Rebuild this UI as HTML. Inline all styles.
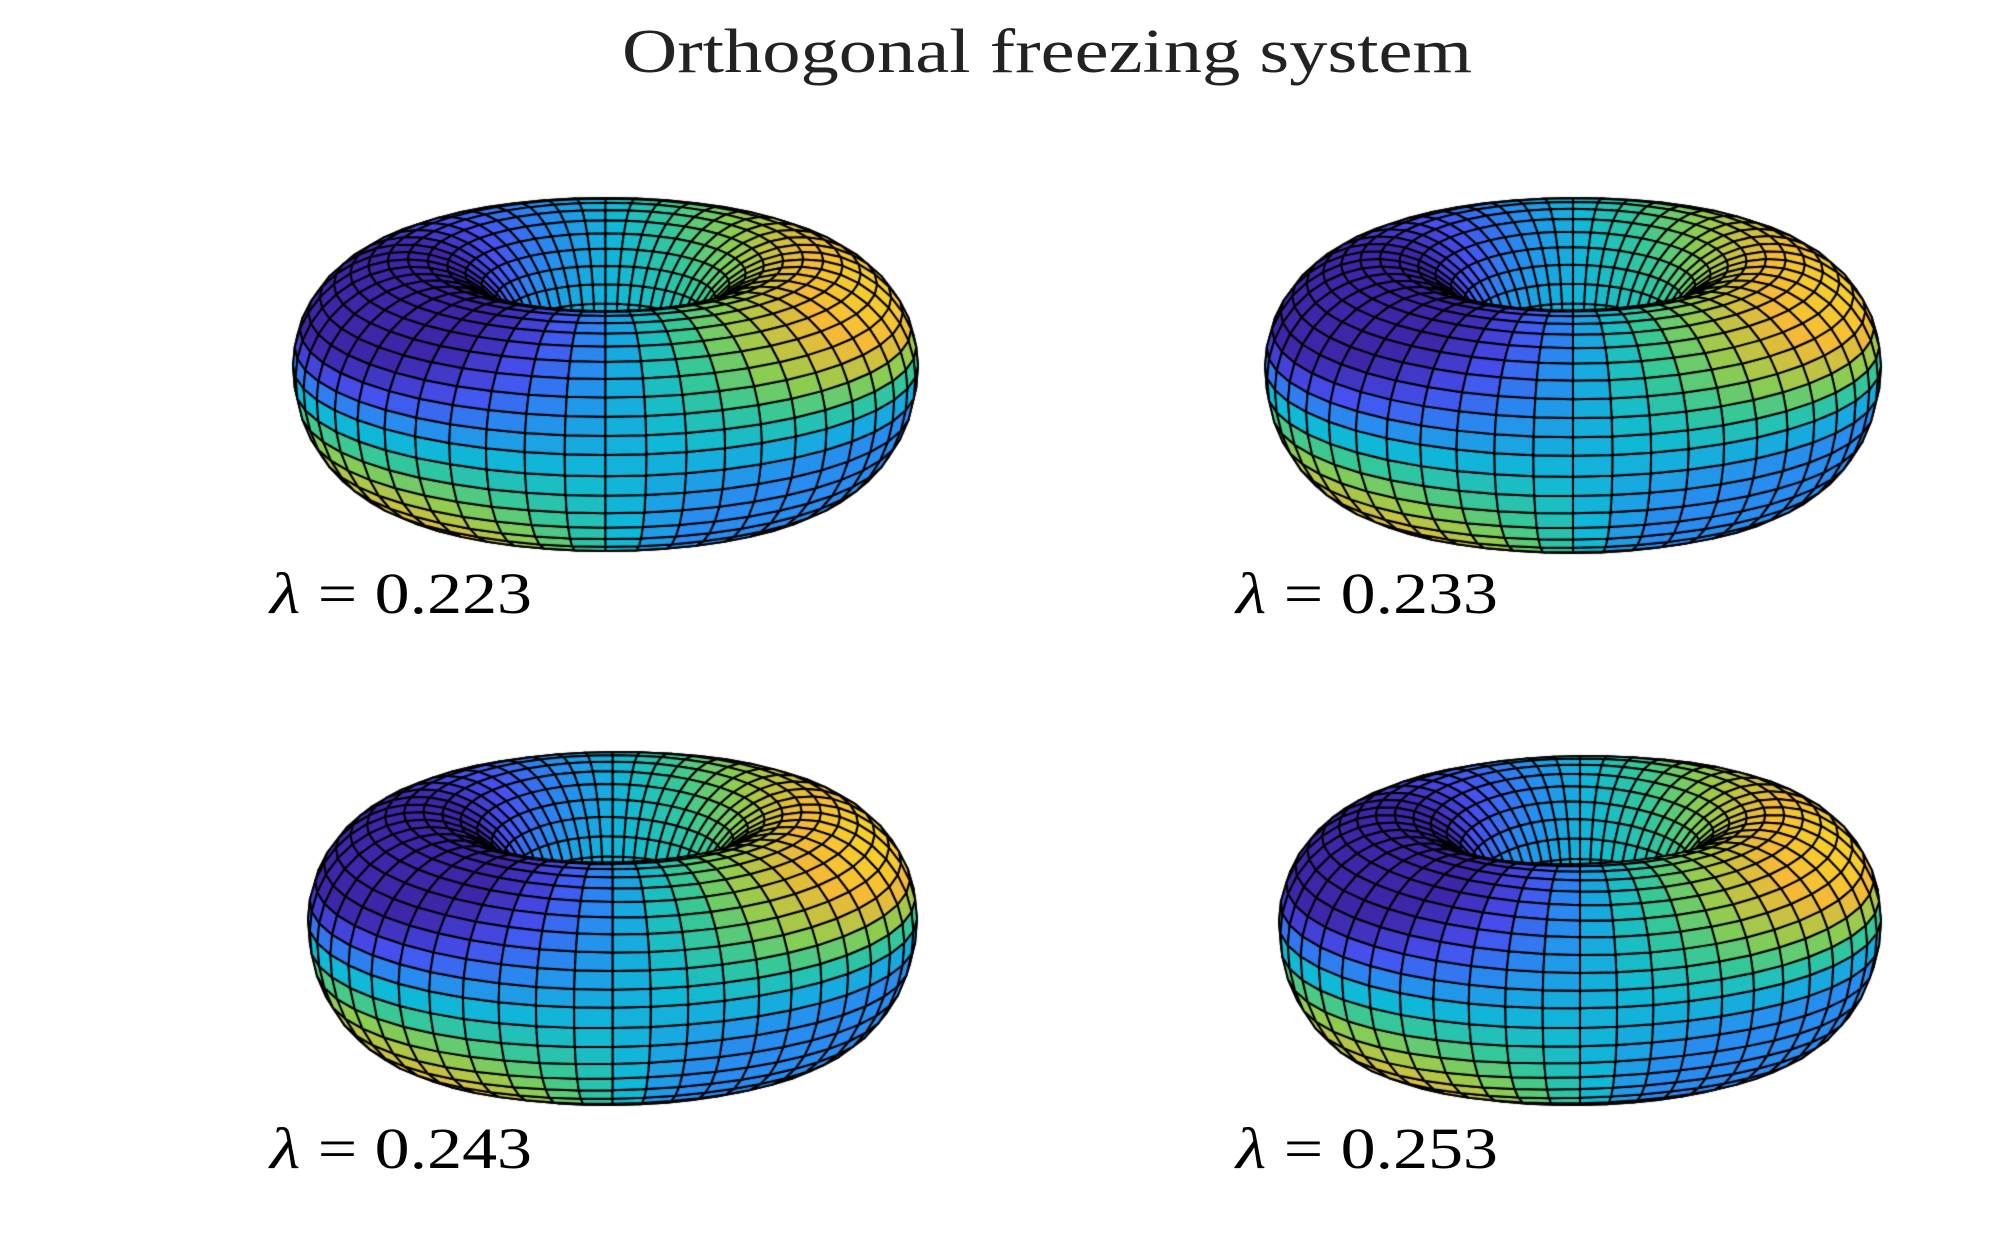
<!DOCTYPE html>
<html><head><meta charset="utf-8"><style>
html,body{margin:0;padding:0;background:#fff;}
#wrap{position:relative;width:2000px;height:1250px;overflow:hidden;}
canvas{position:absolute;left:0;top:0;}
svg{position:absolute;left:0;top:0;}
</style></head><body><div id="wrap">
<canvas id="c" width="2000" height="1250"></canvas>
<svg width="2000" height="1250" xmlns="http://www.w3.org/2000/svg" font-family="'Liberation Serif', serif" fill="#222">
<text x="1047" y="72" font-size="62" text-anchor="middle" textLength="850" lengthAdjust="spacingAndGlyphs">Orthogonal freezing system</text>
<g font-size="58" fill="#000">
<text x="270" y="613" textLength="262" lengthAdjust="spacingAndGlyphs"><tspan font-style="italic">λ</tspan> = 0.223</text>
<text x="1236" y="613" textLength="262" lengthAdjust="spacingAndGlyphs"><tspan font-style="italic">λ</tspan> = 0.233</text>
<text x="270" y="1168" textLength="262" lengthAdjust="spacingAndGlyphs"><tspan font-style="italic">λ</tspan> = 0.243</text>
<text x="1236" y="1168" textLength="262" lengthAdjust="spacingAndGlyphs"><tspan font-style="italic">λ</tspan> = 0.253</text>
</g></svg>
</div>
<script>
var ctx=document.getElementById('c').getContext('2d');
var stops=[[0,[62,38,168]],[0.15,[70,80,240]],[0.3,[40,140,240]],[0.45,[15,185,215]],[0.6,[55,200,150]],[0.72,[140,205,80]],[0.85,[245,185,55]],[1,[250,250,20]]];
function cmap(t){t=Math.max(0,Math.min(1,t));for(var i=1;i<stops.length;i++){if(t<=stops[i][0]){var a=stops[i-1],b=stops[i],f=(t-a[0])/(b[0]-a[0]);return 'rgb('+[0,1,2].map(function(k){return Math.round(a[1][k]+(b[1][k]-a[1][k])*f)}).join(',')+')';}}return 'rgb(250,250,20)';}
function torus(bx,by,bw,bh,warp){
 var R=1,r=0.58,zs=1.7,nu=48,nv=36,e=0.42,ce=Math.cos(e),se=Math.sin(e);
 var P=[];
 for(var i=0;i<=nu;i++){P[i]=[];var u=i/nu*2*Math.PI;
  for(var j=0;j<=nv;j++){var v=j/nv*2*Math.PI;
   var rr=r*(1+warp*0.06*Math.sin(2*u+1)*Math.cos(v));
   var x=(R+rr*Math.cos(v))*Math.cos(u),y=(R+rr*Math.cos(v))*Math.sin(u),z=rr*zs*Math.sin(v);
   if(Math.sin(v)>0) z*=0.85;
   var sx=x,sy=-(z*ce+y*se),d=y*ce-z*se;
   var xn=x/(R+r),zn=z/(r*zs),yn=y/(R+r);
   var damp=1-0.7*Math.max(yn,0);
   var c=0.42+0.45*damp*Math.tanh(3.0*xn*zn)+0.2*Math.max(yn,0)*(zn>-0.3?1:0)+0.08*xn-0.12*zn*(1-Math.abs(xn));
   if(xn>0) c=Math.max(c,0.3);
   P[i][j]=[sx,sy,d,c];}}
 var minx=1e9,maxx=-1e9,miny=1e9,maxy=-1e9;
 P.forEach(function(row){row.forEach(function(p){minx=Math.min(minx,p[0]);maxx=Math.max(maxx,p[0]);miny=Math.min(miny,p[1]);maxy=Math.max(maxy,p[1]);});});
 var sxs=bw/(maxx-minx),sys=bh/(maxy-miny);
 function T(p){return [bx+(p[0]-minx)*sxs,by+(p[1]-miny)*sys];}
 var Q=[];
 for(var i=0;i<nu;i++)for(var j=0;j<nv;j++){var a=P[i][j],b=P[i+1][j],c=P[i+1][j+1],d=P[i][j+1];
  Q.push({pts:[T(a),T(b),T(c),T(d)],d:(a[2]+b[2]+c[2]+d[2])/4,c:(a[3]+b[3]+c[3]+d[3])/4});}
 Q.sort(function(a,b){return b.d-a.d;});
 ctx.lineWidth=2;ctx.strokeStyle='#000';ctx.lineJoin='round';
 Q.forEach(function(q){ctx.beginPath();ctx.moveTo(q.pts[0][0],q.pts[0][1]);for(var k=1;k<4;k++)ctx.lineTo(q.pts[k][0],q.pts[k][1]);ctx.closePath();ctx.fillStyle=cmap(q.c);ctx.fill();ctx.stroke();});
}
torus(293,198,625,353,0);
torus(1265,198,616,355,0.5);
torus(308,752,609,353,1);
torus(1279,756,602,349,1.5);
</script>
</body></html>
